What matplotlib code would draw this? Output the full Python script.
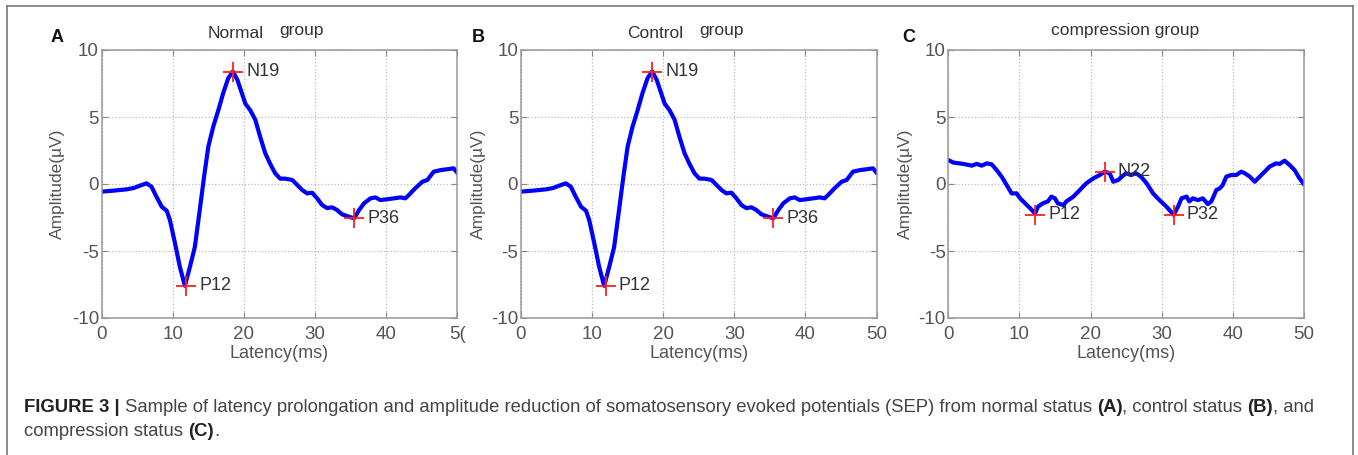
# SEP waveforms for normal, control and compression groups

import matplotlib
matplotlib.use('Agg')
import matplotlib.pyplot as plt
from matplotlib.lines import Line2D

plt.rcParams['font.family'] = ['Liberation Sans', 'DejaVu Sans']
plt.rcParams['axes.unicode_minus'] = False

# Waveform (A and B show the same trace)
latency_ab = [0, 1.6, 3.5, 4.5, 5.4, 6.3, 7.0, 7.7, 8.45, 9.15, 9.6, 10.3, 11.0, 11.7,
              12.4, 13.1, 13.85, 14.4, 15.0, 15.7, 16.4, 17.1, 17.8, 18.45, 19.1, 19.7,
              20.2, 20.9, 21.6, 22.3, 23.0, 23.7, 24.4, 25.1, 25.8, 26.8, 27.5, 28.2,
              28.9, 29.6, 30.3, 31.0, 31.7, 32.4, 33.1, 33.8, 34.7, 35.5, 36.2, 36.9,
              37.8, 38.5, 39.2, 40.1, 41.1, 42.0, 42.7, 43.2, 44.1, 45.1, 45.8, 46.7,
              47.7, 48.6, 49.5, 50]
amp_ab = [-0.57, -0.5, -0.4, -0.3, -0.12, 0.05, -0.2, -0.95, -1.7, -2.0, -2.7, -4.4,
          -6.2, -7.6, -6.2, -4.7, -1.7, 0.55, 2.8, 4.3, 5.5, 6.8, 7.9, 8.4, 7.75, 6.8,
          6.0, 5.5, 4.8, 3.5, 2.3, 1.5, 0.8, 0.4, 0.4, 0.3, -0.07, -0.45, -0.7, -0.65,
          -1.07, -1.57, -1.8, -1.74, -1.94, -2.26, -2.43, -2.56, -1.94, -1.44, -1.07,
          -1.0, -1.2, -1.14, -1.07, -1.0, -1.07, -0.82, -0.32, 0.17, 0.3, 0.92, 1.04,
          1.1, 1.17, 0.85]
peak_lat_ab = [11.9, 18.45, 35.5]
peak_amp_ab = [-7.6, 8.37, -2.55]
peak_names_ab = ['P12', 'N19', 'P36']

latency_c = [0, 0.7, 2.1, 3.3, 4.0, 4.7, 5.4, 6.1, 6.8, 7.5, 8.2, 8.9, 9.6, 10.1, 10.8,
             11.5, 12.2, 12.6, 13.3, 14.0, 14.5, 15.0, 15.4, 16.2, 16.6, 17.6, 18.5,
             19.4, 20.4, 21.3, 22.0, 22.7, 23.2, 23.9, 24.4, 25.0, 25.7, 26.4, 27.1,
             27.9, 28.8, 29.7, 30.7, 31.7, 32.3, 32.8, 33.5, 33.9, 34.4, 35.1, 35.8,
             36.5, 37.0, 37.7, 38.2, 38.6, 39.1, 39.8, 40.5, 41.2, 41.7, 42.4, 43.1,
             43.8, 44.5, 45.2, 46.1, 46.6, 47.3, 48.0, 48.7, 49.4, 50]
amp_c = [1.79, 1.6, 1.5, 1.37, 1.5, 1.37, 1.54, 1.47, 1.04, 0.55, -0.07, -0.7, -0.7,
         -1.07, -1.44, -1.8, -2.2, -1.7, -1.44, -1.3, -0.94, -1.07, -1.44, -1.57, -1.3,
         -0.94, -0.45, 0.05, 0.42, 0.67, 0.92, 0.8, 0.17, 0.3, 0.55, 0.8, 0.67, 0.8,
         0.55, 0.05, -0.7, -1.2, -1.7, -2.3, -1.7, -1.07, -0.94, -1.3, -1.07, -1.2,
         -1.07, -1.5, -1.3, -0.45, -0.32, -0.07, 0.55, 0.67, 0.67, 0.92, 0.8, 0.55,
         0.17, 0.55, 0.92, 1.3, 1.54, 1.5, 1.74, 1.42, 1.04, 0.42, 0.0]
peak_lat_c = [12.2, 22.0, 31.7]
peak_amp_c = [-2.3, 0.92, -2.3]
peak_names_c = ['P12', 'N22', 'P32']

x_ticks = [0, 10, 20, 30, 40, 50]
y_ticks = [-10, -5, 0, 5, 10]

W, H = 1358, 455
fig = plt.figure(figsize=(W / 100, H / 100), dpi=100)

# outer frame (open at the bottom)
for xs, ys in [([7, 7], [0, 6]), ([7, 1353], [6, 6]), ([1353, 1353], [6, 0])]:
    fig.add_artist(Line2D([x / W for x in xs], [1 - (y if y else H) / H for y in ys],
                          color='#777777', lw=1.2))

panels = [
    dict(left=101.7, letter='A', lx=51, ly=37, ylx=57,
         title=[('Normal', 236, 33), ('group', 302, 31)],
         lat=latency_ab, amp=amp_ab, plat=peak_lat_ab, pamp=peak_amp_ab,
         names=peak_names_ab, last_tick='5('),
    dict(left=521, letter='B', lx=472, ly=37, ylx=478,
         title=[('Control', 655, 33), ('group', 721, 31)],
         lat=latency_ab, amp=amp_ab, plat=peak_lat_ab, pamp=peak_amp_ab,
         names=peak_names_ab, last_tick='50'),
    dict(left=948.3, letter='C', lx=902, ly=37, ylx=905,
         title=[('compression group', 1125, 31)],
         lat=latency_c, amp=amp_c, plat=peak_lat_c, pamp=peak_amp_c,
         names=peak_names_c, last_tick='50'),
]

top_px, bot_px, width_px = 50, 318, 355.5

for p in panels:
    ax = fig.add_axes([p['left'] / W, 1 - bot_px / H, width_px / W, (bot_px - top_px) / H])
    ax.plot(p['lat'], p['amp'], color='#0000ff', lw=3.0, solid_joinstyle='round')
    ax.plot(p['plat'], p['pamp'], linestyle='none', marker='+', color='#ff2020',
            markersize=15, markeredgewidth=1.3)
    for lat, amp, name in zip(p['plat'], p['pamp'], p['names']):
        ax.annotate(name, (lat, amp), xytext=(9.5, 0), textcoords='offset points',
                    ha='left', va='center', fontsize=13, color='#333333')
    ax.set_xlim(0, 50)
    ax.set_ylim(-10, 10)
    ax.set_xticks(x_ticks)
    ax.set_xticklabels([str(t) for t in x_ticks[:-1]] + [p['last_tick']])
    ax.set_yticks(y_ticks)
    ax.grid(True, linestyle=':', color='#bbbbbb', lw=0.9)
    ax.tick_params(direction='in', length=4, color='#888888', labelcolor='#555555',
                   labelsize=13.5, top=True, right=True)
    ax.tick_params(axis='x', pad=6)
    ax.tick_params(axis='y', pad=2)
    for s in ax.spines.values():
        s.set_color('#999999')
        s.set_linewidth(1.1)
    ax.set_xlabel('Latency(ms)', fontsize=13, color='#555555', labelpad=1)
    fig.text(p['ylx'] / W, 1 - 184 / H, 'Amplitude(µV)', rotation=90, ha='center',
             va='center', fontsize=12.5, color='#555555')
    fig.text(p['lx'] / W, 1 - p['ly'] / H, p['letter'], fontsize=13, fontweight='bold',
             ha='left', va='center', color='#111111')
    for word, x, y in p['title']:
        fig.text(x / W, 1 - y / H, word, fontsize=12.5, ha='center', va='center',
                 color='#333333')

# caption with bold pieces
line1 = [('FIGURE 3 |', True),
         (' Sample of latency prolongation and amplitude reduction of somatosensory '
          'evoked potentials (SEP) from normal status ', False),
         ('(A)', True), (', control status ', False), ('(B)', True), (', and', False)]
line2 = [('compression status ', False), ('(C)', True), ('.', False)]

renderer = fig.canvas.get_renderer()


def caption_line(pieces, x_px, y_px, size=13.35):
    x = x_px
    for txt, bold in pieces:
        t = fig.text(x / W, 1 - y_px / H, txt, fontsize=size,
                     fontweight='bold' if bold else 'normal', ha='left', va='center',
                     color='#222222' if bold else '#444444')
        bb = t.get_window_extent(renderer)
        x += bb.width


caption_line(line1, 24, 407)
caption_line(line2, 24, 431)

fig.savefig('out.png', dpi=100)
